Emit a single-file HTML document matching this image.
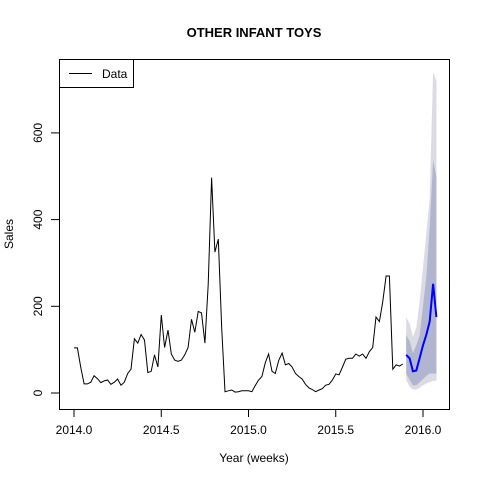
<!DOCTYPE html>
<html><head><meta charset="utf-8"><style>
body{margin:0;background:#fff}
svg{display:block;font-family:"Liberation Sans",Arial,sans-serif}
</style></head><body>
<svg id="chart" width="480" height="480">
<text x="254" y="37" text-anchor="middle" font-weight="bold" font-size="13">OTHER INFANT TOYS</text>
<text x="254" y="462" text-anchor="middle" font-size="12">Year (weeks)</text>
<text x="13" y="234" text-anchor="middle" font-size="12" transform="rotate(-90 13 234)">Sales</text>
<g id="bands"></g>
<g id="lines"></g>
<g id="axes"></g>
<rect x="59.5" y="59.5" width="390" height="350" fill="none" stroke="#000"/>
<g>
<rect x="59.5" y="59.5" width="74" height="28" fill="#fff" stroke="#000"/>
<line x1="69" y1="73.5" x2="92" y2="73.5" stroke="#000"/>
<text x="102" y="78" font-size="12">Data</text>
</g>
</svg>
<script>
const sales = [104,104,60,21,21,25,40,33,24,28,30,20,25,32,18,25,45,55,125,115,135,122,47,50,88,60,180,105,145,90,76,73,76,88,105,170,140,188,185,115,250,497,325,355,150,3,5,7,2,3,5,5,5,3,17,30,38,70,90,50,45,75,92,65,68,60,45,38,32,20,12,8,3,7,10,18,20,30,44,42,60,78,80,80,90,85,90,80,95,105,175,165,210,270,270,55,65,62,67];
const forecast = [88,80,50,52,80,110,135,165,252,175];
const lo95 = [30,15,8,8,12,18,22,25,28,28];
const hi95 = [175,160,130,150,210,290,370,450,740,720];
const lo80 = [45,30,18,18,25,32,40,45,45,45];
const hi80 = [134,120,92,110,132,200,270,383,537,500];
const yTicks = [0,200,400,600];
const xTicks = [2014.0,2014.5,2015.0,2015.5,2016.0];
const startYear = 2014, weeksPerYear = 52;

const NS = "http://www.w3.org/2000/svg";
const xs = t => 74 + (t - 2014) * 174.5;
const ys = v => 393 - v * 0.4335;
const tw = i => startYear + i / weeksPerYear;
function mk(tag, attrs, parent){const e=document.createElementNS(NS,tag);for(const k in attrs)e.setAttribute(k,attrs[k]);parent.appendChild(e);return e;}

const bands=document.getElementById('bands'), lines=document.getElementById('lines'), axes=document.getElementById('axes');
const f0 = sales.length;
function band(lo, hi, fill, name){
  let pts=[];
  for(let j=0;j<hi.length;j++) pts.push(xs(tw(f0+j)).toFixed(1)+','+ys(hi[j]).toFixed(1));
  for(let j=lo.length-1;j>=0;j--) pts.push(xs(tw(f0+j)).toFixed(1)+','+ys(lo[j]).toFixed(1));
  const p=mk('polygon',{points:pts.join(' '),fill:fill},bands);
  
  
}
band(lo95,hi95,'#dbdbe3','band-95');
band(lo80,hi80,'#b1b5d0','band-80');

const dl=mk('polyline',{points:sales.map((v,i)=>xs(tw(i)).toFixed(1)+','+ys(v).toFixed(1)).join(' '),fill:'none',stroke:'#000','stroke-width':1},lines);


const fl=mk('polyline',{points:forecast.map((v,j)=>xs(tw(f0+j)).toFixed(1)+','+ys(v).toFixed(1)).join(' '),fill:'none',stroke:'#0000ff','stroke-width':2},lines);



for(const v of yTicks){
  const y=ys(v);
  const l=mk('line',{x1:51,x2:59.5,y1:y,y2:y,stroke:'#000'},axes);
  
  
  const t=mk('text',{x:42,y:y,'font-size':12,'text-anchor':'middle',transform:`rotate(-90 42 ${y})`},axes);
  t.textContent=v;
  
  
}
mk('line',{x1:59.5,x2:59.5,y1:ys(0),y2:ys(600),stroke:'#000'},axes);
for(const v of xTicks){
  const x=xs(v);
  const l=mk('line',{x1:x,x2:x,y1:409.5,y2:417,stroke:'#000'},axes);
  
  
  const t=mk('text',{x:x,y:434,'font-size':12,'text-anchor':'middle'},axes);
  t.textContent=v.toFixed(1);
  
  
}
</script>
</body></html>
